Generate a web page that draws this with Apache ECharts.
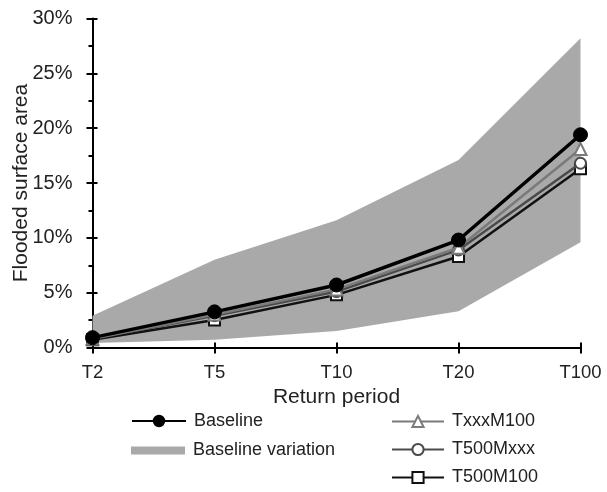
<!DOCTYPE html>
<html>
<head>
<meta charset="utf-8">
<script src="https://cdn.jsdelivr.net/npm/echarts@6/dist/echarts.min.js"></script>
<style>
html,body{margin:0;padding:0;background:#fff;}
#c{width:607px;height:492px;}
</style>
</head>
<body>
<div id="c"></div>
<script>
var categories = ['T2', 'T5', 'T10', 'T20', 'T100'];
var bandLower = [0.4, 0.7, 1.5, 3.3, 9.6];
var bandUpper = [2.9, 8.0, 11.6, 17.1, 28.2];
var baseline = [0.9, 3.25, 5.7, 9.8, 19.4];
var txxxM100 = [0.8, 3.0, 5.3, 9.1, 18.1];
var t500Mxxx = [0.8, 2.9, 5.1, 8.9, 16.8];
var t500M100 = [0.7, 2.5, 4.8, 8.3, 16.3];

var FONT = 'Liberation Sans, Arial, sans-serif';
var TXT = '#222';
var bandSpan = bandUpper.map(function (u, i) { return +(u - bandLower[i]).toFixed(3); });

var chart = echarts.init(document.getElementById('c'), null, {renderer: 'canvas'});
chart.setOption({
  animation: false,
  backgroundColor: '#fff',
  textStyle: {fontFamily: FONT},
  grid: {left: 92.5, right: 26.5, top: 18.5, bottom: 144.5, containLabel: false, outerBoundsMode: 'none'},
  legend: [
    {
      data: ['Baseline'], orient: 'vertical', left: 131, top: 412, padding: 0,
      itemWidth: 54, itemHeight: 13,
      textStyle: {fontSize: 18, color: TXT, fontFamily: FONT, padding: [0, 0, 0, 3]}
    },
    {
      data: [{name: 'Baseline variation', icon: 'rect'}], orient: 'vertical', left: 131, top: 441.5, padding: 0,
      itemWidth: 54, itemHeight: 8,
      textStyle: {fontSize: 18, color: TXT, fontFamily: FONT, padding: [0, 0, 0, 3]}
    },
    {
      data: ['TxxxM100', 'T500Mxxx', 'T500M100'], orient: 'vertical', left: 391, top: 412.5, padding: 0,
      itemWidth: 52, itemHeight: 14, itemGap: 10,
      textStyle: {fontSize: 18, color: TXT, fontFamily: FONT, padding: [0, 0, 0, 3]}
    }
  ],
  xAxis: [
    {
      type: 'category', data: categories, boundaryGap: false,
      name: 'Return period', nameLocation: 'middle', nameGap: 39, nameMoveOverlap: false,
      nameTextStyle: {fontSize: 21, color: TXT, fontFamily: FONT},
      axisLine: {lineStyle: {color: '#000', width: 2}},
      axisTick: {show: true, inside: false, length: 6, alignWithLabel: true, lineStyle: {color: '#000', width: 2}},
      axisLabel: {fontSize: 18.5, color: TXT, margin: 16, fontFamily: FONT},
      splitLine: {show: false}
    },
    {
      type: 'category', data: categories, boundaryGap: false, position: 'bottom',
      axisLine: {show: false},
      axisTick: {show: true, inside: true, length: 5, lineStyle: {color: '#000', width: 2}},
      axisLabel: {show: false},
      splitLine: {show: false}
    }
  ],
  yAxis: [
    {
      type: 'value', min: 0, max: 30, interval: 5,
      name: 'Flooded surface area', nameLocation: 'middle', nameGap: 61, nameRotate: 90, nameMoveOverlap: false,
      nameTextStyle: {fontSize: 21, color: TXT, fontFamily: FONT},
      axisLine: {show: true, lineStyle: {color: '#000', width: 2}},
      axisTick: {show: true, inside: false, length: 6, lineStyle: {color: '#000', width: 2}},
      minorTick: {show: true, splitNumber: 2, length: 4, lineStyle: {color: '#000', width: 2}},
      axisLabel: {fontSize: 20, color: TXT, margin: 20, formatter: '{value}%', fontFamily: FONT},
      splitLine: {show: false}
    },
    {
      type: 'value', min: 0, max: 30, interval: 5, position: 'left',
      axisLine: {show: false},
      axisTick: {show: true, inside: true, length: 5, lineStyle: {color: '#000', width: 2}},
      axisLabel: {show: false},
      splitLine: {show: false}
    }
  ],
  series: [
    {
      name: 'bandLow', type: 'line', stack: 'band', data: bandLower,
      symbol: 'none', lineStyle: {opacity: 0}, silent: true, z: 1
    },
    {
      name: 'Baseline variation', type: 'line', stack: 'band', data: bandSpan,
      symbol: 'none', lineStyle: {opacity: 0},
      itemStyle: {color: '#a9a9a9'},
      areaStyle: {color: '#a9a9a9', opacity: 1}, silent: true, z: 1
    },
    {
      name: 'T500M100', type: 'line', data: t500M100,
      symbol: 'rect', symbolSize: 11,
      lineStyle: {color: '#111', width: 2.5},
      itemStyle: {color: '#fff', borderColor: '#111', borderWidth: 2},
      z: 3
    },
    {
      name: 'T500Mxxx', type: 'line', data: t500Mxxx,
      symbol: 'circle', symbolSize: 11,
      lineStyle: {color: '#4a4a4a', width: 2.5},
      itemStyle: {color: '#fff', borderColor: '#4a4a4a', borderWidth: 2},
      z: 4
    },
    {
      name: 'TxxxM100', type: 'line', data: txxxM100,
      symbol: 'triangle', symbolSize: 12,
      lineStyle: {color: '#7a7a7a', width: 2.5},
      itemStyle: {color: '#fff', borderColor: '#7a7a7a', borderWidth: 2},
      z: 5
    },
    {
      name: 'Baseline', type: 'line', data: baseline,
      symbol: 'circle', symbolSize: 14,
      lineStyle: {color: '#000', width: 3.5},
      itemStyle: {color: '#000', borderColor: '#000', borderWidth: 1},
      z: 6
    }
  ]
});
</script>
</body>
</html>
